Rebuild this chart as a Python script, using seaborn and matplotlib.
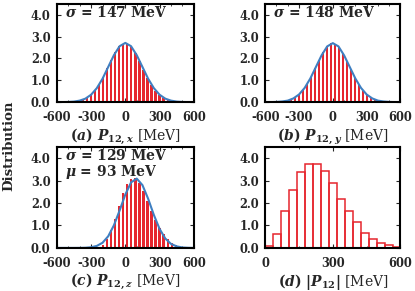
import numpy as np
import pandas as pd
import seaborn as sns
import matplotlib
matplotlib.use("Agg")
import matplotlib.pyplot as plt
from matplotlib.ticker import MultipleLocator, FormatStrFormatter

# bin edges of the three momentum-component histograms and of |P12|
edges_xyz = np.linspace(-600, 600, 35)
edges_abs = np.linspace(0, 600, 18)

# heights (x 1e-3 / MeV)
hist_a = [0, 0, 0.005, 0.01, 0.03, 0.07, 0.13, 0.22, 0.36, 0.56, 0.84, 1.16, 1.55, 1.93, 2.30, 2.57, 2.68,
          2.66, 2.52, 2.25, 1.88, 1.49, 1.10, 0.78, 0.52, 0.33, 0.19, 0.10, 0.05, 0.02, 0.01, 0.005, 0, 0]
hist_b = [0, 0, 0.005, 0.015, 0.03, 0.07, 0.12, 0.22, 0.35, 0.55, 0.83, 1.15, 1.55, 1.92, 2.28, 2.56, 2.69,
          2.67, 2.53, 2.27, 1.90, 1.50, 1.12, 0.79, 0.53, 0.34, 0.20, 0.11, 0.05, 0.025, 0.01, 0.005, 0, 0]
hist_c = [0, 0, 0, 0, 0, 0, 0, 0, 0, 0.01, 0.05, 0.15, 0.4, 0.8, 1.3, 1.85, 2.45,
          2.85, 3.05, 3.1, 2.9, 2.55, 2.1, 1.65, 1.25, 0.9, 0.6, 0.38, 0.22, 0.12, 0.06, 0.02, 0.01, 0]
hist_d = [0.08, 0.64, 1.64, 2.6, 3.4, 3.75, 3.75, 3.44, 2.88, 2.2, 1.65, 1.15, 0.68, 0.41, 0.23, 0.12, 0.05]

# gaussian fit curves
curve_x = list(range(-600, 601, 50))
curve_a = [0, 0.002, 0.008, 0.025, 0.07, 0.16, 0.34, 0.64, 1.07, 1.61, 2.15, 2.56, 2.71,
           2.56, 2.15, 1.61, 1.07, 0.64, 0.34, 0.16, 0.07, 0.025, 0.008, 0.002, 0]
curve_b = [0, 0.002, 0.01, 0.03, 0.07, 0.17, 0.35, 0.65, 1.08, 1.61, 2.14, 2.55, 2.70,
           2.55, 2.14, 1.61, 1.08, 0.65, 0.35, 0.17, 0.07, 0.03, 0.01, 0.002, 0]
curve_c = [0, 0, 0, 0, 0.002, 0.008, 0.03, 0.09, 0.23, 0.52, 1.01, 1.67, 2.38,
           2.92, 3.09, 2.80, 2.19, 1.47, 0.85, 0.42, 0.18, 0.07, 0.02, 0.006, 0]

labels = [r"$(a)\ P_{12,x}$ [MeV]", r"$(b)\ P_{12,y}$ [MeV]",
          r"$(c)\ P_{12,z}$ [MeV]", r"$(d)\ |P_{12}|$ [MeV]"]
notes = [r"$\sigma$ = 147 MeV", r"$\sigma$ = 148 MeV",
         r"$\sigma$ = 129 MeV" + "\n" + r"$\mu$ = 93 MeV", None]

sns.set_style("ticks")
plt.rcParams["font.family"] = ["DejaVu Serif"]
plt.rcParams["font.weight"] = "bold"
plt.rcParams["axes.unicode_minus"] = False
plt.rcParams["mathtext.fontset"] = "custom"
plt.rcParams["mathtext.rm"] = "DejaVu Serif:bold"
plt.rcParams["mathtext.it"] = "DejaVu Serif:italic:bold"
plt.rcParams["mathtext.bf"] = "DejaVu Serif:bold"

red = "#e6262e"
blue = "#3f7fc1"

fig = plt.figure(figsize=(4.15, 2.91), dpi=100)
boxes = [[0.137, 0.649, 0.330, 0.338], [0.639, 0.649, 0.326, 0.338],
         [0.137, 0.148, 0.330, 0.347], [0.639, 0.148, 0.326, 0.347]]
hists = [hist_a, hist_b, hist_c, hist_d]
curves = [curve_a, curve_b, curve_c, None]

for i in range(4):
    ax = fig.add_axes(boxes[i])
    if i < 3:
        df = pd.DataFrame({"p": (edges_xyz[:-1] + edges_xyz[1:]) / 2, "h": hists[i]})
        sns.histplot(data=df, x="p", weights="h", bins=len(edges_xyz) - 1,
                     binrange=(edges_xyz[0], edges_xyz[-1]), shrink=0.55,
                     color=red, alpha=1, edgecolor="none", linewidth=0, ax=ax)
        sns.lineplot(x=curve_x, y=curves[i], color=blue, linewidth=1.5, ax=ax)
        ax.set_xlim(-600, 600)
        ax.xaxis.set_major_locator(MultipleLocator(300))
        ax.xaxis.set_minor_locator(MultipleLocator(100))
    else:
        df = pd.DataFrame({"p": (edges_abs[:-1] + edges_abs[1:]) / 2, "h": hists[i]})
        sns.histplot(data=df, x="p", weights="h", bins=len(edges_abs) - 1,
                     binrange=(edges_abs[0], edges_abs[-1]), fill=False,
                     color=red, linewidth=1.1, ax=ax)
        ax.set_xlim(0, 600)
        ax.xaxis.set_major_locator(MultipleLocator(300))
        ax.xaxis.set_minor_locator(MultipleLocator(150))
    ax.set_ylim(0, 4.5)
    ax.yaxis.set_major_locator(MultipleLocator(1))
    ax.yaxis.set_major_formatter(FormatStrFormatter("%.1f"))
    ax.tick_params(which="both", direction="in", top=True, right=True, labelsize=8.3)
    ax.tick_params(axis="x", which="major", pad=6.5)
    ax.tick_params(axis="y", which="major", pad=4.5)
    ax.tick_params(which="major", length=3, width=0.8)
    ax.tick_params(which="minor", length=1.5, width=0.6)
    for s in ax.spines.values():
        s.set_linewidth(1.5)
        s.set_color("black")
    ax.set_ylabel("")
    ax.set_xlabel(labels[i], fontsize=10, labelpad=1.5)
    if notes[i]:
        ax.text(0.06, 0.99, notes[i], transform=ax.transAxes, ha="left", va="top",
                fontsize=10, linespacing=1.0)

fig.text(0.022, 0.5, "Distribution", rotation=90, ha="center", va="center", fontsize=9.5)

fig.savefig("out.png", dpi=100)
